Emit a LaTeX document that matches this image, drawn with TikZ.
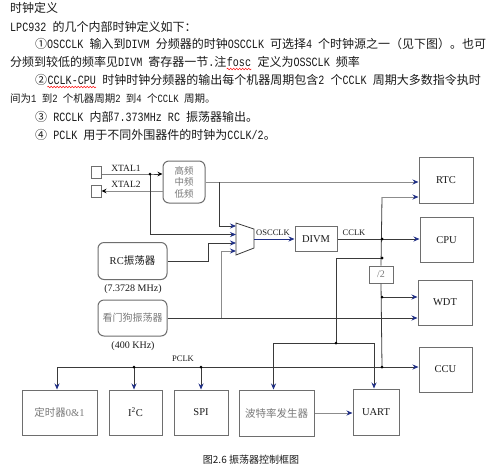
\documentclass[tikz,border=0pt]{standalone}
\usepackage{fontspec}
\usetikzlibrary{arrows.meta,decorations.pathmorphing}
\setmainfont{Liberation Serif}
\newfontfamily\cjk{Noto Sans CJK SC}
\newfontfamily\mono[Scale=1.05,FakeStretch=0.8]{Liberation Mono}
\newcommand\lt[1]{{\mono #1}}
\definecolor{navy}{HTML}{1F2F86}
\definecolor{darkl}{HTML}{3A3A3A}
\definecolor{grayl}{HTML}{8C8C8C}
\definecolor{boxc}{HTML}{6E6E6E}
\definecolor{txtg}{HTML}{7A7A7A}
\definecolor{txtk}{HTML}{1A1A1A}
\begin{document}
\begin{tikzpicture}[x=1pt,y=-1pt,
  box/.style={draw=boxc, line width=1pt, inner sep=0pt, text=txtk, font=\fontsize{10.5}{12}\selectfont},
  rbox/.style={box, rounded corners=6pt},
  ln/.style={draw=darkl, line width=0.8pt},
  gln/.style={draw=grayl, line width=0.9pt},
  bln/.style={draw=navy, line width=0.8pt},
  arr/.style={-{Stealth[length=6pt,width=5pt,color=navy]}},
  karr/.style={-{Stealth[length=5pt,width=4.5pt,color=black]}},
  dotn/.style={circle, fill=black, inner sep=0pt, minimum size=3pt},
  para/.style={anchor=base west, inner sep=0pt, text=txtk, font=\cjk\fontsize{12}{14}\selectfont},
  wave/.style={draw=red, line width=0.5pt, decorate, decoration={snake, amplitude=0.8pt, segment length=3pt}},
  lbl/.style={inner sep=0pt, text=txtk}
]
\useasboundingbox (0,0) rectangle (502,469);
\fill[white] (0,0) rectangle (502,469);

% ---- top text ----
\node[para] (t1) at (10,12.5) {时钟定义};
\node[para] (t2) at (10,31.5) {\lt{LPC932 }的几个内部时钟定义如下：};
\node[para] (t3) at (35,48.5) {①\lt{OSCCLK }输入到\lt{DIVM }分频器的时钟\lt{OSCCLK }可选择\lt{4 }个时钟源之一（见下图）。也可};
\node[para] (t4a) at (10,66.5) {分频到较低的频率见\lt{DIVM }寄存器一节\lt{.}注};
\node[para] (t4b) at (t4a.base east) {\lt{fosc}};
\node[para] (t4c) at (t4b.base east) {\lt{ }定义为\lt{OSSCLK }频率};
\draw[wave] ([yshift=-2.5pt]t4b.base west) -- ([yshift=-2.5pt]t4b.base east);
\node[para] (t5a) at (35,84.5) {②};
\node[para] (t5b) at (t5a.base east) {\lt{CCLK-CPU}};
\node[para] (t5c) at (t5b.base east) {\lt{ }时钟时钟分频器的输出每个机器周期包含\lt{2 }个\lt{CCLK }周期大多数指令执时};
\draw[wave] ([yshift=-2.5pt]t5b.base west) -- ([yshift=-2.5pt]t5b.base east);
\node[para, font=\cjk\fontsize{10.5}{12}\selectfont] (t6) at (10,102) {间为\lt{1 }到\lt{2 }个机器周期\lt{2 }到\lt{4 }个\lt{CCLK }周期。};
\node[para] (t7) at (35,121.5) {③\lt{ RCCLK }内部\lt{7.373MHz RC }振荡器输出。};
\node[para] (t8) at (35,139.5) {④\lt{ PCLK }用于不同外围器件的时钟为\lt{CCLK/2}。};

% ---- boxes ----
\node[box, minimum width=10pt, minimum height=12pt] (xs1) at (96,172) {};
\node[box, minimum width=10pt, minimum height=12pt] (xs2) at (96,191) {};
\node[rbox, minimum width=42pt, minimum height=42pt, text=txtg, align=center,
      font=\cjk\fontsize{9.5}{11.5}\selectfont] (hml) at (184,182) {高频\\中频\\低频};
\node[rbox, minimum width=69pt, minimum height=37pt, font=\fontsize{10.5}{12}\selectfont] (rc) at (132.5,261) {RC{\cjk 振荡器}};
\node[rbox, minimum width=69pt, minimum height=36pt, text=txtg, font=\cjk\fontsize{10}{12}\selectfont] (wd) at (132.5,318) {看门狗振荡器};
\node[lbl, font=\fontsize{10}{12}\selectfont] (rcf) at (133,289) {(7.3728 MHz)};
\node[lbl, font=\fontsize{10}{12}\selectfont] (wdf) at (133,346) {(400 KHz)};

\node[box, minimum width=54pt, minimum height=46pt] (rtc) at (446,180) {RTC};
\node[box, minimum width=53pt, minimum height=45pt] (cpu) at (446.5,240) {CPU};
\node[box, minimum width=54pt, minimum height=45pt] (wdt) at (445,302.5) {WDT};
\node[box, minimum width=53pt, minimum height=45pt] (ccu) at (445.5,369.5) {CCU};
\node[box, minimum width=42pt, minimum height=25pt] (divm) at (316,239) {DIVM};
\node[box, minimum width=24pt, minimum height=17pt, text=txtg, font=\fontsize{10}{12}\selectfont] (half) at (381,274.5) {/2};

\node[box, minimum width=75pt, minimum height=45pt, text=txtg] (t01) at (59.5,412.5) {{\cjk 定时器}0\&1};
\node[box, minimum width=53pt, minimum height=45pt] (i2c) at (135.5,412.5) {I\textsuperscript{2}C};
\node[box, minimum width=54pt, minimum height=45pt] (spi) at (201,412.5) {SPI};
\node[box, minimum width=75pt, minimum height=46pt, text=txtg, font=\cjk\fontsize{10.5}{12}\selectfont] (baud) at (276.5,413) {波特率发生器};
\node[box, minimum width=46pt, minimum height=46pt] (uart) at (376,412) {UART};

% ---- mux ----
\draw[ln, fill=white] (236,223) -- (254,229) -- (254,248) -- (236,255) -- cycle;
\coordinate (m1) at (236,226);
\coordinate (m2) at (236,234.5);
\coordinate (m3) at (236,243);
\coordinate (m4) at (236,251);
\coordinate (mo) at (254,239);

% ---- junctions ----
\coordinate (j1) at (150,174);
\coordinate (j2) at (219,182);
\coordinate (c3) at (208,243);
\coordinate (j3) at (221,318);
\coordinate (j4) at (382,239);
\coordinate (r2) at (382,197);
\coordinate (j5) at (382,258);
\coordinate (j6) at (336,343);
\coordinate (j7) at (382,297);
\coordinate (j8) at (382,367);
\coordinate (p0) at (57,367);
\coordinate (p1) at (134,367);
\coordinate (p2) at (201,367);

% ---- connectors ----
\draw[ln, karr] (j1 -| xs1.east) -- (j1) -- (j1 -| hml.west);
\draw[gln, karr] (hml.west |- xs2) -- (xs2.east);
\node[lbl, font=\fontsize{9.5}{11}\selectfont] (x1l) at (126,168) {XTAL1};
\node[lbl, font=\fontsize{9.5}{11}\selectfont] (x2l) at (126,184.5) {XTAL2};

\draw[gln, arr] (hml.east) -- (hml.east -| rtc.west);
\draw[ln, arr] (j2) |- (m1);
\draw[ln, arr] (j1) |- (m2);
\draw[ln, arr] (rc.east) -| (c3) -- (m3);
\draw[ln, arr] (wd.east) -- (wd.east -| wdt.west);
\draw[gln, arr] (j3) |- (m4);

\draw[bln, arr] (mo) -- (divm.west);
\node[lbl, font=\fontsize{8.5}{10}\selectfont] (osl) at (273,233) {OSCCLK};
\draw[ln, arr] (divm.east) -- (divm.east -| cpu.west);
\node[lbl, font=\fontsize{8.5}{10}\selectfont] (ccl) at (354,232.5) {CCLK};

\draw[ln] (half.north) -- (r2);
\draw[gln, arr] (r2) -- (r2 -| rtc.west);
\draw[ln] (j5) -| (j6);
\draw[ln, arr] (j6) -| ([xshift=-3pt]baud.north);
\draw[ln, arr] (j6) -| ([xshift=-2pt]uart.north);
\draw[ln] (half.south) -- (j8);
\draw[ln, arr] (j7) -- (j7 -| wdt.west);
\draw[ln, arr] (j8) -- (j8 -| ccu.west);
\draw[ln] (j8) -- (p0);
\draw[ln, arr] (p0) -- (p0 |- t01.north);
\draw[ln, arr] (p1) -- (p1 |- i2c.north);
\draw[ln, arr] (p2) -- (p2 |- spi.north);
\node[lbl, font=\fontsize{8.5}{10}\selectfont] (pcl) at (183,358.5) {PCLK};
\draw[gln, arr] (baud.east) -- (baud.east -| uart.west);

\foreach \d in {j1,j4,j5,j6,j7,j8,p1,p2} \node[dotn] at (\d) {};

% ---- caption ----
\node[lbl, font=\cjk\fontsize{10}{12}\selectfont] (cap) at (251,460) {图2.6 振荡器控制框图};
\end{tikzpicture}
\end{document}
